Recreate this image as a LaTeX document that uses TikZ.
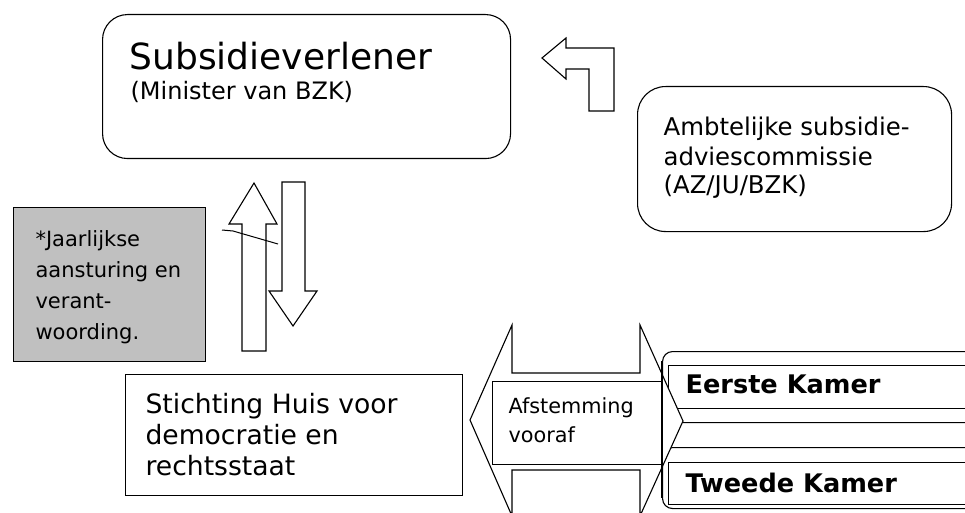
\documentclass[tikz,border=0pt]{standalone}
\usepackage{fontspec}
\setmainfont{DejaVu Sans}
\definecolor{boxgray}{RGB}{192,192,192}
\begin{document}
\begin{tikzpicture}[x=1pt,y=-1pt,line width=1.1pt,
  box/.style={draw=black,fill=white,inner sep=0pt,anchor=north west},
  shapeline/.style={draw=black,fill=white,line join=miter},
  txt/.style={anchor=base west,inner sep=0pt}]
\useasboundingbox (0,0) rectangle (965,513);
\clip (0,0) rectangle (965,513);

% Subsidieverlener
\node[box,rounded corners=25pt,minimum width=408pt,minimum height=144pt] (sub) at (102,14) {};
\node[txt,font=\fontsize{36}{40}\selectfont] (subT) at (129,70) {Subsidieverlener};
\node[txt,font=\fontsize{24}{29}\selectfont] (subM) at (130,100) {(Minister van BZK)};

% bent arrow
\draw[shapeline] (542,58) -- (566,38) -- (566,48) -- (614,48) -- (614,111)
  -- (589,111) -- (589,69) -- (566,69) -- (566,79) -- cycle;

% Ambtelijke commissie
\node[box,rounded corners=28pt,minimum width=314pt,minimum height=145pt] (amb) at (637,86) {};
\node[txt,font=\fontsize{24.4}{29}\selectfont] (ambT) at (663,136)
  {\vtop{\hbox{Ambtelijke subsidie-}\hbox{adviescommissie}\hbox{(AZ/JU/BZK)}}};

% gray note
\node[box,fill=boxgray,minimum width=192pt,minimum height=154pt] (note) at (13,207) {};
\node[txt,font=\fontsize{21}{31}\selectfont] (noteT) at (35,246)
  {\vtop{\hbox{*Jaarlijkse}\hbox{aansturing en}\hbox{verant-}\hbox{woording.}}};

% up and down arrows
\draw[shapeline] (242,351) -- (242,224) -- (229,224) -- (254,183) -- (277,224)
  -- (266,224) -- (266,351) -- cycle;
\draw[shapeline] (282,182) -- (305,182) -- (305,291) -- (317,291) -- (293,326)
  -- (269,291) -- (282,291) -- cycle;
\draw[line width=1pt] (222,230) -- (233,231) -- (278,244);

% Stichting
\node[box,minimum width=337pt,minimum height=121pt] (sti) at (125,374) {};
\node[txt,font=\fontsize{26.6}{31}\selectfont] (stiT) at (145,413)
  {\vtop{\hbox{Stichting Huis voor}\hbox{democratie en}\hbox{rechtsstaat}}};

% Kamers
\node[box,rounded corners=10pt,minimum width=340pt,minimum height=71pt] (r1) at (662,351) {};
\node[box,rounded corners=10pt,minimum width=340pt,minimum height=61pt] (r2) at (662,447) {};
\node[box,minimum width=330pt,minimum height=43pt] (ek) at (668,365) {};
\node[box,minimum width=330pt,minimum height=42pt] (tk) at (668,462) {};
\node[txt,font=\fontsize{25.6}{30}\selectfont\bfseries] (ekT) at (685,393) {Eerste Kamer};
\node[txt,font=\fontsize{25.6}{30}\selectfont\bfseries] (tkT) at (685,492) {Tweede Kamer};

% double arrow
\draw[shapeline] (470,420) -- (512,325) -- (512,373) -- (640,373) -- (640,325)
  -- (683,421) -- (640,516) -- (640,470) -- (512,470) -- (512,516) -- cycle;
\node[box,minimum width=169pt,minimum height=83pt] (afs) at (492,381) {};
\node[txt,font=\fontsize{20.8}{29}\selectfont] (afsT) at (508,413)
  {\vtop{\hbox{Afstemming}\hbox{vooraf}}};

% left edge of the Kamer frame
\coordinate (edgeTop) at (662,361);
\coordinate (edgeBot) at (662,498);
\draw (edgeTop) -- (edgeBot);
\end{tikzpicture}
\end{document}
